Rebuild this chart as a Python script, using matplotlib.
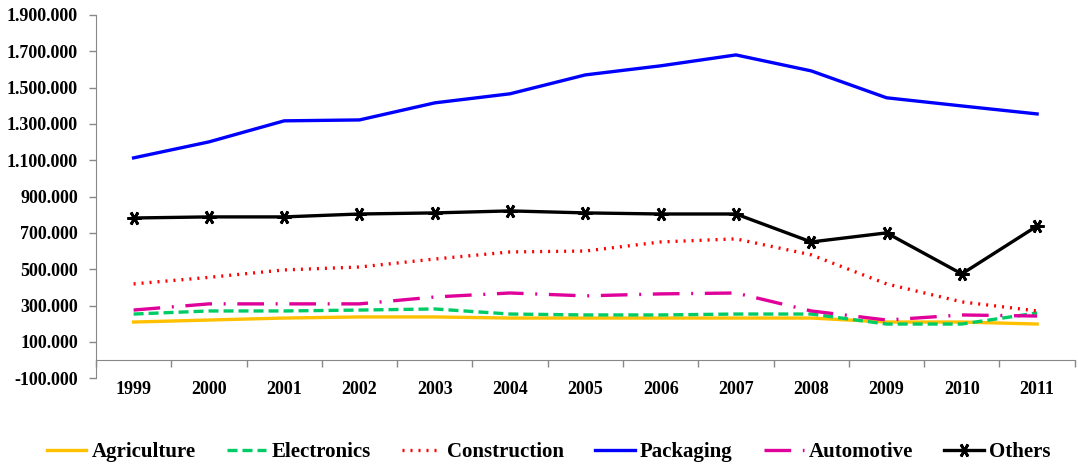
import numpy as np
import matplotlib
matplotlib.use("Agg")
import matplotlib.pyplot as plt
from matplotlib.ticker import FuncFormatter, FixedLocator

years = ['1999', '2000', '2001', '2002', '2003', '2004', '2005',
         '2006', '2007', '2008', '2009', '2010', '2011']

agriculture = [209000, 220000, 231000, 237000, 237000, 231000, 231000,
               231000, 231000, 231000, 209000, 209000, 198000]
electronics = [253000, 270000, 270000, 275000, 281000, 253000, 248000,
               248000, 253000, 253000, 198000, 198000, 259000]
construction = [419000, 455000, 496000, 512000, 556000, 595000, 600000,
                650000, 667000, 579000, 419000, 320000, 270000]
packaging = [1113000, 1201000, 1317000, 1322000, 1416000, 1466000, 1570000,
             1620000, 1680000, 1592000, 1444000, 1399000, 1355000]
automotive = [275000, 309000, 309000, 309000, 347000, 369000, 353000,
              364000, 369000, 270000, 220000, 248000, 242000]
others = [782000, 788000, 788000, 804000, 810000, 821000, 810000,
          804000, 804000, 650000, 700000, 474000, 738000]

plt.rcParams['font.family'] = ['Liberation Serif', 'DejaVu Serif']
plt.rcParams['font.weight'] = 'bold'

fig = plt.figure(figsize=(10.78, 4.68), dpi=100)
ax = fig.add_axes([0.089, 0.192, 0.908, 0.776])

x = np.arange(len(years))
lw = 2.4
ax.plot(x, agriculture, color='#FFC000', lw=lw, label='Agriculture')
ax.plot(x, electronics, color='#00CC66', lw=lw, ls=(0, (3, 1.5)), label='Electronics')
ax.plot(x, construction, color='#FF0000', lw=lw, ls=(0, (0.6, 1.8)), label='Construction')
ax.plot(x, packaging, color='#0000FF', lw=lw, label='Packaging')
ax.plot(x, automotive, color='#E0009A', lw=lw, ls=(0, (8, 3.5, 0.6, 3.5)), label='Automotive')
# six-armed asterisk marker with a vertical arm
ax.plot(x, others, color='black', lw=lw, marker=(6, 2, 30), markersize=10,
        markeredgewidth=2.0, label='Others')

ax.set_xlim(-0.5, len(years) - 0.5)
ax.set_ylim(-100000, 1900000)
ax.set_yticks(np.arange(-100000, 1900001, 200000))

def fmt(v, pos):
    s = f"{abs(int(round(v))):,}".replace(',', '.')
    return ('-' if v < 0 else '') + s

ax.yaxis.set_major_formatter(FuncFormatter(fmt))

ax.set_xticks(x)
ax.set_xticklabels(years)
ax.xaxis.set_minor_locator(FixedLocator(np.arange(-0.5, len(years), 1.0)))
ax.tick_params(axis='x', which='major', length=0, pad=15, labelsize=13)
ax.tick_params(axis='x', which='minor', length=5, direction='out', color='#888888', width=1)
ax.tick_params(axis='y', length=5, direction='out', color='#888888', width=1, labelsize=13, pad=8)

for side in ['top', 'right']:
    ax.spines[side].set_visible(False)
ax.spines['left'].set_color('#888888')
ax.spines['bottom'].set_color('#888888')
ax.spines['bottom'].set_position(('data', 0))

handles, labels = ax.get_legend_handles_labels()
fig.legend(handles, labels, loc='center', bbox_to_anchor=(0.509, 0.034), ncol=6,
           frameon=False, fontsize=15, handlelength=1.9, handletextpad=0.25,
           columnspacing=1.5, borderaxespad=0)

fig.savefig('out.png', dpi=100)
